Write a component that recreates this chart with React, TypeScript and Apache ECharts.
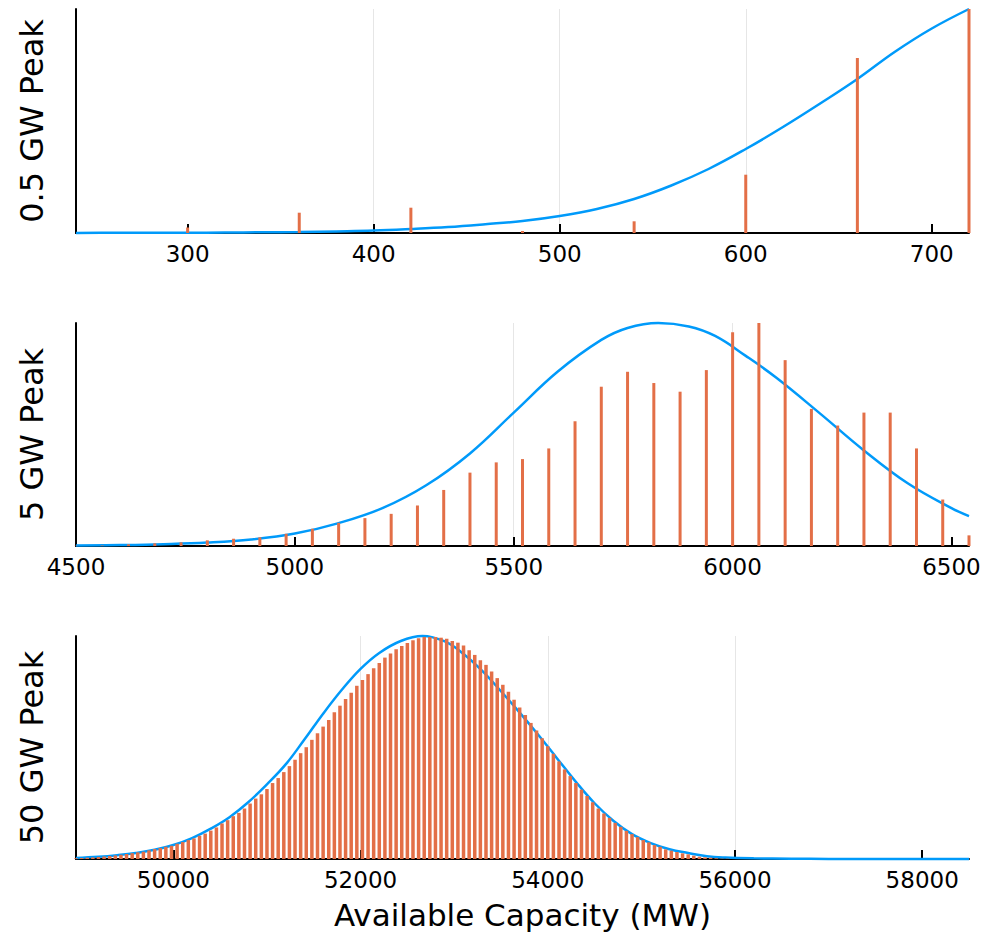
import React, { useEffect, useRef } from "react";
import * as echarts from "echarts";

// ---------- Panel 1 : 0.5 GW Peak ----------
const p1BarX = [300, 360, 420, 480, 540, 600, 660, 720];
const p1BarY = [5.5, 20.3, 25.3, 2, 11.7, 58.3, 175, 224];
const p1CurveX = [240, 260, 280, 300, 320, 340, 360, 380, 400, 420, 440, 460, 480, 500, 520, 540, 560, 580, 600, 620, 640, 660, 680, 700, 720];
const p1CurveY = [0.1, 0.15, 0.2, 0.3, 0.45, 0.7, 1.0, 1.6, 2.4, 4, 6, 8.8, 12, 17, 24, 34, 47.5, 64, 84, 106, 129.5, 154, 181, 204.5, 224];
const p1Ticks = [300, 400, 500, 600, 700];
const p1Labels = [300, 400, 500, 600, 700];

// ---------- Panel 2 : 5 GW Peak ----------
const p2BarX = [4500, 4560, 4620, 4680, 4740, 4800, 4860, 4920, 4980, 5040, 5100, 5160, 5220, 5280, 5340, 5400, 5460, 5520,
  5580, 5640, 5700, 5760, 5820, 5880, 5940, 6000, 6060, 6120, 6180, 6240, 6300, 6360, 6420, 6480, 6540];
const p2BarY = [0.3, 0.5, 1.7, 2.7, 3.7, 5.7, 7.3, 8.7, 12.3, 17.3, 23.3, 28, 32.3, 40.7, 56.3, 73.7, 84, 87.3,
  98, 125.3, 160, 175, 163.7, 155, 176.7, 214.7, 224, 186.7, 137.7, 121, 134, 134, 98, 46.7, 10.7];
const p2CurveX = [4500, 4600, 4700, 4800, 4900, 5000, 5100, 5200, 5300, 5400, 5500, 5600, 5700, 5760, 5830, 5900,
  5960, 6030, 6100, 6200, 6300, 6400, 6500, 6540];
const p2CurveY = [0.4, 0.9, 1.8, 3.4, 6.5, 12.5, 23, 38, 61, 93, 134, 175, 207, 219, 224, 220.5,
  211, 191, 169, 133, 96, 63, 38, 30];
const p2Ticks = [5000, 5500, 6000, 6500];
const p2Labels = [4500, 5000, 5500, 6000, 6500];

// ---------- Panel 3 : 50 GW Peak ----------
const p3BinStart = 48960;
const p3BinStep = 60;
const p3BarY = [
  0.8, 1.0, 1.3, 1.6, 2.0, 2.5, 3.0, 3.6, 4.3, 5.0,
  5.8, 6.7, 7.3, 8.7, 10, 11, 12.3, 13.3, 15.3, 17,
  19, 20.7, 23.3, 25.5, 28.5, 31.7, 35.7, 39, 43, 46.3,
  50.7, 55.7, 60.7, 65, 70.3, 76.3, 81.3, 87.3, 93.3, 99.7,
  106.3, 112.3, 119.7, 126.3, 133, 139.7, 147.3, 154, 160.7, 167,
  174, 179.7, 185.7, 191.7, 197, 202.3, 206.3, 210.7, 214, 217,
  219.7, 221.7, 223, 223, 223, 222.3, 221.3, 219, 217.3, 214.5,
  209.7, 205, 199.7, 195, 188.3, 181.7, 175, 168, 160, 152.3,
  144.7, 136.7, 129, 121.3, 113.3, 105.7, 98, 90, 83.3, 76.3,
  69.7, 63.3, 57, 50.7, 45.7, 41.3, 36.3, 32.3, 28.3, 25,
  22, 19, 16.7, 14, 12.3, 9.7, 8.3, 7, 5.7, 4.7,
  3.3, 2.3, 1.7, 1.3, 0.7, 0.3, 0.3,
];
const p3CurveX = [48960, 49200, 49400, 49600, 49800, 50000, 50200, 50400, 50600, 50800, 51000, 51200, 51400, 51600, 51800,
  52000, 52200, 52430, 52660, 52900, 53100, 53300, 53500, 53700, 53900, 54100, 54300, 54500, 54700, 54900,
  55100, 55300, 55500, 55700, 55900, 56200, 56600, 57000, 57600, 58500];
const p3CurveY = [1.0, 2.2, 3.8, 6.0, 9.2, 14, 21, 30.5, 42, 57, 75, 95, 120, 146, 170,
  191, 207, 219, 224, 218.5, 206, 189, 168.5, 147, 124.5, 101, 77.5, 56, 38.5, 25,
  16, 9.8, 6.0, 2.8, 1.5, 0.7, 0.3, 0.1, 0, 0];
const p3Ticks = [50000, 52000, 54000, 56000, 58000];
const p3Labels = [50000, 52000, 54000, 56000, 58000];

const yTitles = ["0.5 GW Peak", "5 GW Peak", "50 GW Peak"];
const xTitle = "Available Capacity (MW)";

const FONT = "DejaVu Sans";
const BLUE = "#009AFA";
const ORANGE = "#E36F47";

const zip = (xs: number[], ys: number[]) => xs.map((x, i) => [x, ys[i]]);

export default function App() {
  const ref = useRef<HTMLDivElement>(null);
  useEffect(() => {
    document.body.style.margin = "0";
    const chart = echarts.init(ref.current!, null, { renderer: "svg" });

    const p3BarX = p3BarY.map((_, i) => p3BinStart + i * p3BinStep);

    const panels = [
      { min: 240, max: 720, iv: 100, ticks: p1Ticks, labels: p1Labels, bars: zip(p1BarX, p1BarY), curve: zip(p1CurveX, p1CurveY), bw: 3 },
      { min: 4500, max: 6540, iv: 500, ticks: p2Ticks, labels: p2Labels, bars: zip(p2BarX, p2BarY), curve: zip(p2CurveX, p2CurveY), bw: 3 },
      { min: 48960, max: 58500, iv: 2000, ticks: p3Ticks, labels: p3Labels, bars: zip(p3BarX, p3BarY), curve: zip(p3CurveX, p3CurveY), bw: 3.5 },
    ];
    const tops = [9, 323, 636];
    const heights = [224, 223, 223];

    const option: any = {
      animation: false,
      backgroundColor: "#ffffff",
      grid: panels.map((_, i) => ({ left: 76, top: tops[i], width: 893, height: heights[i], containLabel: false })),
      xAxis: panels.map((p, i) => ({
        type: "value",
        gridIndex: i,
        min: p.min,
        max: p.max,
        minInterval: p.iv,
        maxInterval: p.iv,
        name: i === 2 ? xTitle : "",
        nameLocation: "middle",
        nameGap: 40,
        nameTextStyle: { fontFamily: FONT, fontSize: 31, color: "#000" },
        axisLine: { show: true, lineStyle: { color: "#000", width: 2 } },
        axisTick: { show: true, inside: true, length: 9, lineStyle: { color: "#000", width: 2 }, customValues: p.ticks },
        axisLabel: {
          show: true,
          customValues: p.labels,
          formatter: (v: number) => String(v),
          color: "#000",
          fontFamily: FONT,
          fontSize: 23,
          margin: 9,
        },
        splitLine: { show: true, showMinLine: false, showMaxLine: false, lineStyle: { color: "#e6e6e6", width: 1 } },
      })),
      yAxis: panels.map((_, i) => ({
        type: "value",
        gridIndex: i,
        min: 0,
        max: (v: any) => v.max,
        name: yTitles[i],
        nameLocation: "middle",
        nameRotate: 90,
        nameGap: 28,
        nameTextStyle: { fontFamily: FONT, fontSize: 32, color: "#000" },
        axisLine: { show: true, lineStyle: { color: "#000", width: 2 } },
        axisTick: { show: false },
        axisLabel: { show: false },
        splitLine: { show: false },
      })),
      series: panels.flatMap((p, i) => [
        {
          type: "line",
          xAxisIndex: i,
          yAxisIndex: i,
          data: p.curve,
          smooth: 0.4,
          showSymbol: false,
          clip: false,
          z: 2,
          lineStyle: { color: BLUE, width: 2.5 },
          itemStyle: { color: BLUE },
        },
        {
          type: "bar",
          xAxisIndex: i,
          yAxisIndex: i,
          data: p.bars,
          barWidth: p.bw,
          clip: false,
          z: 4,
          itemStyle: { color: ORANGE },
        },
      ]),
    };
    chart.setOption(option);
    return () => chart.dispose();
  }, []);
  return (
    <div
      ref={ref}
      style={{ position: "absolute", left: 0, top: 0, width: 984, height: 936, background: "#fff" }}
    />
  );
}
